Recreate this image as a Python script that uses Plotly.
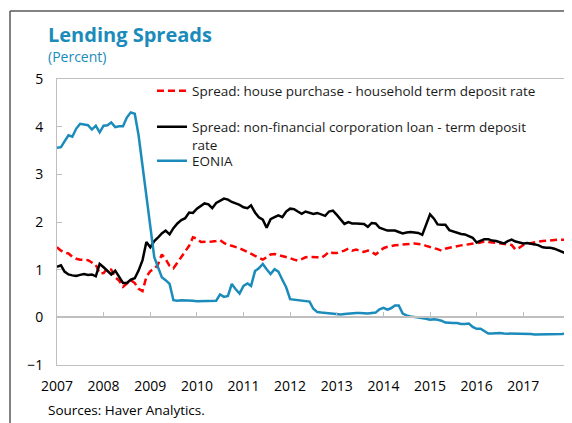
import pandas as pd
import plotly.graph_objects as go

# Monthly, Jan 2007 - Dec 2017
dates = pd.date_range("2007-01-01", "2017-12-01", freq="MS")

house_spread = [
    1.47, 1.40, 1.36, 1.34, 1.27, 1.23, 1.21, 1.21, 1.20, 1.15, 1.10, 0.92,
    0.93, 1.03, 1.00, 0.84, 0.77, 0.64, 0.70, 0.78, 0.72, 0.60, 0.55, 0.85,
    0.97, 1.02, 1.10, 1.32, 1.22, 1.08, 1.03, 1.15, 1.26, 1.36, 1.50, 1.68,
    1.65, 1.58, 1.58, 1.58, 1.59, 1.60, 1.62, 1.56, 1.52, 1.50, 1.48, 1.45,
    1.41, 1.37, 1.32, 1.28, 1.24, 1.21, 1.26, 1.32, 1.33, 1.31, 1.28, 1.26,
    1.24, 1.21, 1.19, 1.22, 1.26, 1.27, 1.27, 1.26, 1.25, 1.30, 1.38, 1.35,
    1.35, 1.37, 1.40, 1.44, 1.40, 1.42, 1.39, 1.37, 1.40, 1.37, 1.32, 1.38,
    1.45, 1.48, 1.50, 1.51, 1.52, 1.53, 1.54, 1.55, 1.55, 1.54, 1.53, 1.50,
    1.48, 1.45, 1.43, 1.40, 1.44, 1.46, 1.48, 1.50, 1.51, 1.52, 1.53, 1.54,
    1.55, 1.57, 1.59, 1.58, 1.57, 1.56, 1.55, 1.54, 1.54, 1.52, 1.42, 1.46,
    1.52, 1.54, 1.55, 1.57, 1.59, 1.60, 1.61, 1.62, 1.62, 1.63, 1.63, 1.63,
]

nfc_spread = [
    1.06, 1.09, 0.96, 0.90, 0.88, 0.87, 0.89, 0.91, 0.89, 0.90, 0.86, 1.12,
    1.05, 0.97, 0.90, 0.98, 0.85, 0.72, 0.72, 0.79, 0.82, 0.98, 1.20, 1.58,
    1.47, 1.60, 1.67, 1.76, 1.82, 1.74, 1.87, 1.97, 2.04, 2.08, 2.20, 2.19,
    2.28, 2.33, 2.39, 2.37, 2.29, 2.40, 2.44, 2.49, 2.47, 2.42, 2.39, 2.36,
    2.31, 2.29, 2.35, 2.20, 2.10, 2.05, 1.88, 2.06, 2.10, 2.14, 2.10, 2.22,
    2.28, 2.27, 2.22, 2.17, 2.22, 2.20, 2.17, 2.19, 2.16, 2.13, 2.22, 2.24,
    2.15, 2.05, 1.96, 2.00, 1.97, 1.97, 1.97, 1.96, 1.90, 1.98, 1.97, 1.88,
    1.85, 1.82, 1.82, 1.82, 1.79, 1.76, 1.78, 1.79, 1.78, 1.77, 1.73, 1.95,
    2.16, 2.07, 1.95, 1.94, 1.94, 1.83, 1.80, 1.77, 1.75, 1.74, 1.71, 1.67,
    1.57, 1.60, 1.64, 1.64, 1.61, 1.60, 1.57, 1.55, 1.60, 1.63, 1.59, 1.57,
    1.55, 1.56, 1.55, 1.53, 1.51, 1.47, 1.46, 1.46, 1.44, 1.41, 1.37, 1.34,
]

eonia = [
    3.56, 3.57, 3.69, 3.82, 3.79, 3.96, 4.06, 4.05, 4.03, 3.94, 4.02, 3.88,
    4.02, 4.03, 4.09, 3.99, 4.01, 4.01, 4.19, 4.30, 4.27, 3.82, 3.15, 2.49,
    1.81, 1.26, 1.06, 0.84, 0.78, 0.70, 0.36, 0.35, 0.36, 0.36, 0.36, 0.35,
    0.34, 0.34, 0.35, 0.35, 0.34, 0.35, 0.48, 0.43, 0.45, 0.70, 0.59, 0.50,
    0.66, 0.71, 0.66, 0.97, 1.03, 1.12, 1.01, 0.91, 1.01, 0.96, 0.79, 0.63,
    0.38, 0.37, 0.36, 0.35, 0.34, 0.33, 0.18, 0.11, 0.10, 0.09, 0.08, 0.07,
    0.07, 0.06, 0.07, 0.08, 0.08, 0.09, 0.09, 0.08, 0.08, 0.09, 0.10, 0.17,
    0.20, 0.16, 0.19, 0.25, 0.25, 0.08, 0.04, 0.02, 0.01, 0.00, -0.01, -0.03,
    -0.05, -0.04, -0.05, -0.07, -0.11, -0.12, -0.12, -0.12, -0.14, -0.14, -0.13, -0.20,
    -0.24, -0.24, -0.29, -0.34, -0.34, -0.33, -0.33, -0.34, -0.34, -0.35, -0.35, -0.35,
    -0.35, -0.35, -0.35, -0.36, -0.36, -0.36, -0.36, -0.36, -0.36, -0.36, -0.35, -0.34,
]

year_labels = ["2007", "2008", "2009", "2010", "2011", "2012",
               "2013", "2014", "2015", "2016", "2017"]
y_ticks = [-1, 0, 1, 2, 3, 4, 5]

names = [
    "Spread: house purchase - household term deposit rate",
    "Spread: non-financial corporation loan - term deposit<br>rate",
    "EONIA",
]

FONT = "Open Sans"
BLUE = "#1a8bbb"
GRID = "#bfbfbf"

# page body has an 8px margin: the figure is placed at (8, 8) in the window
OFF = 8
W, H = 572 - OFF, 423 - OFF
L, R, T, B = 57 - OFF, 6, 79 - OFF, 58
pw, ph = W - L - R, H - T - B


def px(x):
    """window pixel x -> paper coordinate"""
    return (x - OFF - L) / pw


def py(y):
    """window pixel y -> paper coordinate"""
    return (H - B - (y - OFF)) / ph


fig = go.Figure()
fig.add_trace(go.Scatter(x=dates, y=house_spread, mode="lines", name=names[0],
                         line=dict(color="#ff0000", width=2.5, dash="7px,4px"),
                         legend="legend"))
fig.add_trace(go.Scatter(x=dates, y=nfc_spread, mode="lines", name=names[1],
                         line=dict(color="#000000", width=2.5),
                         legend="legend2"))
fig.add_trace(go.Scatter(x=dates, y=eonia, mode="lines", name=names[2],
                         line=dict(color=BLUE, width=2.5),
                         legend="legend3"))
# helper trace carrying the zero-line tick axis
fig.add_trace(go.Scatter(x=[dates[0], dates[-1]], y=[None, None], xaxis="x2",
                         showlegend=False, hoverinfo="skip", mode="lines"))

tickvals = [f"{y}-01-01" for y in year_labels]
xrange_ = [dates[0], dates[-1]]

legend_common = dict(font=dict(family=FONT, size=13.5, color="#1a1a1a"),
                     bgcolor="rgba(0,0,0,0)", xanchor="left", yanchor="middle",
                     valign="top", itemwidth=30, tracegroupgap=0)

fig.update_layout(
    width=W, height=H,
    margin=dict(l=L, r=R, t=T, b=B),
    paper_bgcolor="white", plot_bgcolor="white",
    font=dict(family=FONT, size=14, color="#000000"),
    showlegend=True,
    legend=dict(x=px(152), y=py(91), **legend_common),
    legend2=dict(x=px(152), y=py(136), **legend_common),
    legend3=dict(x=px(152), y=py(161), **legend_common),
    xaxis=dict(range=xrange_, tickvals=tickvals, ticktext=year_labels,
               showgrid=False, zeroline=False, showline=True, mirror=True,
               linecolor=GRID, linewidth=1, ticks="", ticklabelstandoff=8,
               tickfont=dict(family=FONT, size=14, color="#000000")),
    xaxis2=dict(range=xrange_, overlaying="x", anchor="free", position=1/6,
                tickvals=tickvals, showticklabels=False, showgrid=False,
                zeroline=False, showline=True, linecolor=GRID, linewidth=1.5,
                ticks="inside", ticklen=5, tickcolor=GRID, side="bottom"),
    yaxis=dict(range=[-1, 5], tickvals=y_ticks, showgrid=False, zeroline=False,
               showline=True, mirror=True, linecolor=GRID, linewidth=1,
               ticks="inside", ticklen=5, tickcolor=GRID, ticklabelstandoff=10,
               tickfont=dict(family=FONT, size=14, color="#000000")),
    annotations=[
        dict(text="<b>Lending Spreads</b>", x=px(46), y=py(34), xref="paper",
             yref="paper", xanchor="left", yanchor="middle", showarrow=False,
             font=dict(family=FONT, size=20, color=BLUE)),
        dict(text="(Percent)", x=px(46), y=py(56), xref="paper", yref="paper",
             xanchor="left", yanchor="middle", showarrow=False,
             font=dict(family=FONT, size=14, color=BLUE)),
        dict(text="Sources: Haver Analytics.", x=px(46), y=py(410), xref="paper",
             yref="paper", xanchor="left", yanchor="middle", showarrow=False,
             font=dict(family=FONT, size=13.5, color="#000000")),
    ],
    shapes=[
        dict(type="line", xref="paper", yref="paper", x0=px(10), x1=px(10),
             y0=py(11), y1=py(423), line=dict(color="#595959", width=1.5)),
        dict(type="line", xref="paper", yref="paper", x0=px(10), x1=px(572),
             y0=py(11), y1=py(11), line=dict(color="#595959", width=1.5)),
    ],
)

fig.write_html("out.html")
